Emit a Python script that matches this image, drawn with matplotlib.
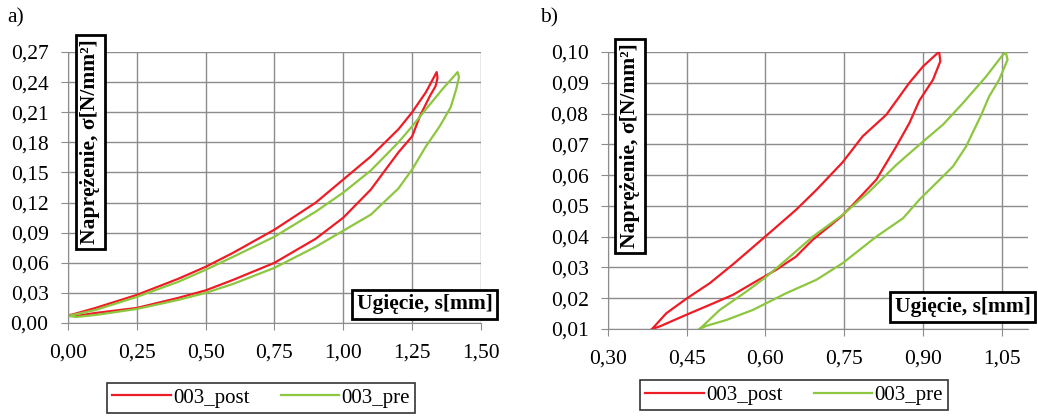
import matplotlib.pyplot as plt
from matplotlib.ticker import FuncFormatter, MultipleLocator

plt.rcParams['font.family'] = ['Liberation Serif', 'DejaVu Serif']

RED = '#ee1c25'
GREEN = '#8dc63f'
GRID = '#8c8c8c'

series_names = ['003_post', '003_pre']

# panel a) loops (loading branch, then unloading branch)
a_post_x = [0.01, 0.10, 0.25, 0.40, 0.50, 0.60, 0.75, 0.90, 1.00, 1.10, 1.20, 1.25, 1.30, 1.339,
            1.342, 1.335, 1.314, 1.278, 1.25, 1.20, 1.10, 1.00, 0.90, 0.75, 0.60, 0.50, 0.40,
            0.25, 0.10, 0.03, 0.01]
a_post_y = [0.008, 0.015, 0.028, 0.044, 0.056, 0.070, 0.093, 0.120, 0.143, 0.166, 0.193, 0.210,
            0.230, 0.250, 0.244, 0.236, 0.226, 0.206, 0.186, 0.170, 0.133, 0.105, 0.084, 0.060,
            0.043, 0.0325, 0.025, 0.015, 0.010, 0.007, 0.008]
a_pre_x = [0.00, 0.10, 0.25, 0.40, 0.50, 0.60, 0.75, 0.90, 1.00, 1.10, 1.20, 1.25, 1.30, 1.36,
           1.415, 1.42, 1.41, 1.39, 1.35, 1.30, 1.25, 1.20, 1.10, 1.00, 0.90, 0.75, 0.60, 0.50,
           0.40, 0.25, 0.10, 0.03, 0.00]
a_pre_y = [0.007, 0.013, 0.026, 0.041, 0.053, 0.066, 0.086, 0.111, 0.130, 0.152, 0.180, 0.196,
           0.213, 0.233, 0.250, 0.245, 0.233, 0.215, 0.196, 0.176, 0.153, 0.134, 0.108, 0.092,
           0.076, 0.055, 0.039, 0.030, 0.023, 0.014, 0.008, 0.006, 0.007]

# panel b) loops
b_post_x = [0.384, 0.411, 0.449, 0.494, 0.538, 0.598, 0.658, 0.697, 0.747, 0.785, 0.830, 0.874,
            0.900, 0.928, 0.931, 0.933, 0.919, 0.893, 0.874, 0.849, 0.811, 0.766, 0.744, 0.690,
            0.658, 0.620, 0.576, 0.538, 0.500, 0.449, 0.398, 0.384]
b_post_y = [0.0100, 0.0151, 0.0198, 0.0249, 0.0310, 0.0398, 0.0487, 0.0552, 0.0642, 0.0726,
            0.0796, 0.0900, 0.0953, 0.0997, 0.0997, 0.0970, 0.0910, 0.0842, 0.0769, 0.0693,
            0.0585, 0.0503, 0.0465, 0.0390, 0.0335, 0.0292, 0.0249, 0.0211, 0.0183, 0.0146,
            0.0108, 0.0100]
b_pre_x = [0.4745, 0.513, 0.563, 0.598, 0.639, 0.690, 0.747, 0.798, 0.849, 0.900, 0.938, 0.976,
           1.020, 1.052, 1.058, 1.061, 1.045, 1.026, 1.011, 0.982, 0.957, 0.925, 0.893, 0.862,
           0.811, 0.747, 0.697, 0.639, 0.576, 0.525, 0.487, 0.4745]
b_pre_y = [0.0100, 0.0162, 0.0221, 0.0265, 0.0324, 0.0400, 0.0471, 0.0547, 0.0633, 0.0709,
           0.0764, 0.0834, 0.0920, 0.0991, 0.0997, 0.0975, 0.0910, 0.0856, 0.0796, 0.0693,
           0.0628, 0.0574, 0.0520, 0.0460, 0.0400, 0.0314, 0.0260, 0.0216, 0.0162, 0.0129,
           0.0110, 0.0100]

ylabel = 'Naprężenie, σ[N/mm²]'
xlabel = 'Ugięcie, s[mm]'

comma = FuncFormatter(lambda v, p: f'{v:.2f}'.replace('.', ','))

fig = plt.figure(figsize=(10.38, 4.17), dpi=100)
ax_a = fig.add_axes([0.0655, 0.2254, 0.3979, 0.6499])
ax_b = fig.add_axes([0.5857, 0.2110, 0.4047, 0.6643])


def style(ax, xlim, ylim, xstep, ystep):
    ax.set_xlim(*xlim)
    ax.set_ylim(*ylim)
    ax.xaxis.set_major_locator(MultipleLocator(xstep))
    ax.yaxis.set_major_locator(MultipleLocator(ystep))
    ax.xaxis.set_major_formatter(comma)
    ax.yaxis.set_major_formatter(comma)
    ax.grid(True, color=GRID, lw=1)
    ax.set_axisbelow(True)
    for s in ['top', 'right']:
        ax.spines[s].set_visible(False)
    for s in ['left', 'bottom']:
        ax.spines[s].set_color(GRID)
    ax.tick_params(direction='out', length=5, color=GRID, labelsize=15.5)
    ax.tick_params(axis='y', pad=9)
    ax.tick_params(axis='x', pad=10)


ax_a.plot(a_post_x, a_post_y, color=RED, lw=1.6, label=series_names[0])
ax_a.plot(a_pre_x, a_pre_y, color=GREEN, lw=1.6, label=series_names[1])
style(ax_a, (0, 1.5), (0, 0.27), 0.25, 0.03)

ax_b.plot(b_post_x, b_post_y, color=RED, lw=1.6, label=series_names[0])
ax_b.plot(b_pre_x, b_pre_y, color=GREEN, lw=1.6, label=series_names[1])
style(ax_b, (0.30, 1.10), (0.01, 0.10), 0.15, 0.01)
ax_b.set_xticks([0.30, 0.45, 0.60, 0.75, 0.90, 1.05])

box = dict(boxstyle='square,pad=0.22', fc='white', ec='black', lw=2)
fig.text(90.5 / 1038, 1 - 142 / 417, ylabel, rotation=90, ha='center', va='center',
         fontsize=15.5, fontweight='bold', bbox=box)
fig.text(630 / 1038, 1 - 146 / 417, ylabel, rotation=90, ha='center', va='center',
         fontsize=15.5, fontweight='bold', bbox=box)
fig.text(424.5 / 1038, 1 - 304.5 / 417, xlabel, ha='center', va='center',
         fontsize=15.5, fontweight='bold', bbox=box)
fig.text(962.5 / 1038, 1 - 307 / 417, xlabel, ha='center', va='center',
         fontsize=15.5, fontweight='bold', bbox=box)

fig.text(7 / 1038, 1 - 18 / 417, 'a)', ha='left', va='center', fontsize=15.5)
fig.text(540 / 1038, 1 - 18 / 417, 'b)', ha='left', va='center', fontsize=15.5)

for ax, cx, cy in [(ax_a, 261 / 1038, 1 - 398 / 417), (ax_b, 794 / 1038, 1 - 395 / 417)]:
    leg = ax.legend(loc='center', bbox_to_anchor=(cx, cy), bbox_transform=fig.transFigure,
                    ncol=2, fontsize=15, frameon=True, fancybox=False, handlelength=2.8,
                    columnspacing=1.5, borderpad=0.25, handletextpad=0.1, borderaxespad=0)
    leg.get_frame().set_edgecolor('black')
    leg.get_frame().set_linewidth(1.2)

fig.savefig('out.png', dpi=100)
